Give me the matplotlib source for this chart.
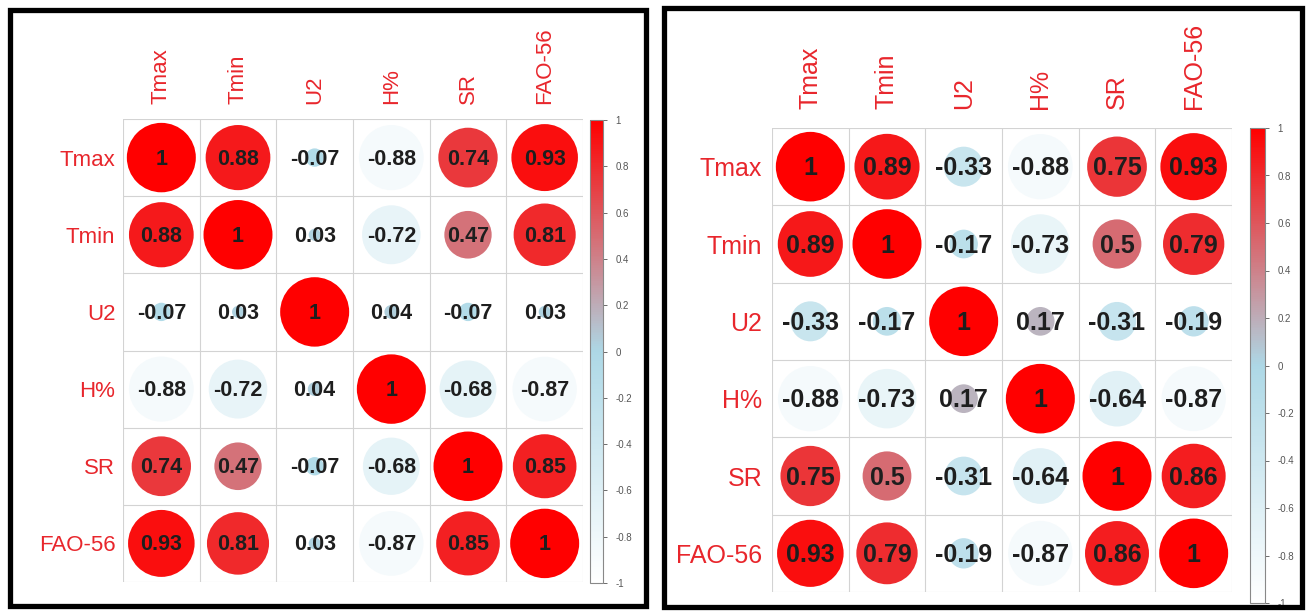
import numpy as np
import matplotlib
matplotlib.use("Agg")
import matplotlib.pyplot as plt
from matplotlib.colors import LinearSegmentedColormap, Normalize
from matplotlib.patches import Circle, Rectangle
from matplotlib.colorbar import ColorbarBase

plt.rcParams['font.family'] = ['Liberation Sans', 'DejaVu Sans']

variables = ["Tmax", "Tmin", "U2", "H%", "SR", "FAO-56"]

corr_left = [
    [1, 0.88, -0.07, -0.88, 0.74, 0.93],
    [0.88, 1, 0.03, -0.72, 0.47, 0.81],
    [-0.07, 0.03, 1, 0.04, -0.07, 0.03],
    [-0.88, -0.72, 0.04, 1, -0.68, -0.87],
    [0.74, 0.47, -0.07, -0.68, 1, 0.85],
    [0.93, 0.81, 0.03, -0.87, 0.85, 1],
]

corr_right = [
    [1, 0.89, -0.33, -0.88, 0.75, 0.93],
    [0.89, 1, -0.17, -0.73, 0.5, 0.79],
    [-0.33, -0.17, 1, 0.17, -0.31, -0.19],
    [-0.88, -0.73, 0.17, 1, -0.64, -0.87],
    [0.75, 0.5, -0.31, -0.64, 1, 0.86],
    [0.93, 0.79, -0.19, -0.87, 0.86, 1],
]

cbar_ticks = [-1, -0.8, -0.6, -0.4, -0.2, 0, 0.2, 0.4, 0.6, 0.8, 1]

cmap = LinearSegmentedColormap.from_list("wbr", ["#FFFFFF", "#ADD8E6", "#FF0000"])
norm = Normalize(-1, 1)

W, H = 1307, 612
fig = plt.figure(figsize=(W / 100, H / 100), dpi=100)


def fx(px):
    return px / W


def fy(py):
    return 1 - py / H


def panel(frame, grid, cbar, corr, label_size, num_size, xpad, ypad):
    fl, ft, fr, fb = frame
    fig.patches.append(Rectangle((fx(fl), fy(fb)), fx(fr - fl), (fb - ft) / H,
                                 transform=fig.transFigure, fill=False,
                                 edgecolor="black", linewidth=3.8, zorder=10))
    gl, gt, gr, gb = grid
    ax = fig.add_axes([fx(gl), fy(gb), fx(gr - gl), (gb - gt) / H])
    n = len(variables)
    ax.set_xlim(0, n)
    ax.set_ylim(n, 0)
    for k in range(n + 1):
        ax.axhline(k, color="#D3D3D3", lw=0.8, zorder=1)
        ax.axvline(k, color="#D3D3D3", lw=0.8, zorder=1)
    for i in range(n):
        for j in range(n):
            v = corr[i][j]
            r = 0.45 * np.sqrt(abs(v))
            ax.add_patch(Circle((j + 0.5, i + 0.5), r, facecolor=cmap(norm(v)),
                                edgecolor="none", zorder=2))
            ax.text(j + 0.5, i + 0.52, f"{v:g}", ha="center", va="center",
                    fontsize=num_size, fontweight="bold", color="#1E1E1E", zorder=3)
    ax.set_xticks(np.arange(n) + 0.5)
    ax.set_yticks(np.arange(n) + 0.5)
    ax.set_xticklabels(variables, rotation=90, color="#E8262C", fontsize=label_size)
    ax.set_yticklabels(variables, color="#E8262C", fontsize=label_size)
    ax.xaxis.tick_top()
    ax.tick_params(axis="x", length=0, pad=xpad)
    ax.tick_params(axis="y", length=0, pad=ypad)
    for s in ax.spines.values():
        s.set_visible(False)

    cl, ct, cr, cb = cbar
    cax = fig.add_axes([fx(cl), fy(cb), fx(cr - cl), (cb - ct) / H])
    cbar_obj = ColorbarBase(cax, cmap=cmap, norm=norm, ticks=cbar_ticks)
    cbar_obj.outline.set_edgecolor("#888888")
    cbar_obj.outline.set_linewidth(0.8)
    cax.set_yticklabels([f"{t:g}" for t in cbar_ticks])
    cax.tick_params(labelsize=7, colors="#555555", length=3, width=0.6, pad=6)


panel((10, 10, 646, 606), (123, 119, 583, 582), (590, 120, 603, 583),
      corr_left, 16, 15.5, 11, 5.5)
panel((664, 8, 1302, 607), (772, 128, 1232, 592), (1250, 128, 1265, 603),
      corr_right, 18, 18, 14, 7)

fig.savefig("out.png", dpi=100, facecolor="white")
